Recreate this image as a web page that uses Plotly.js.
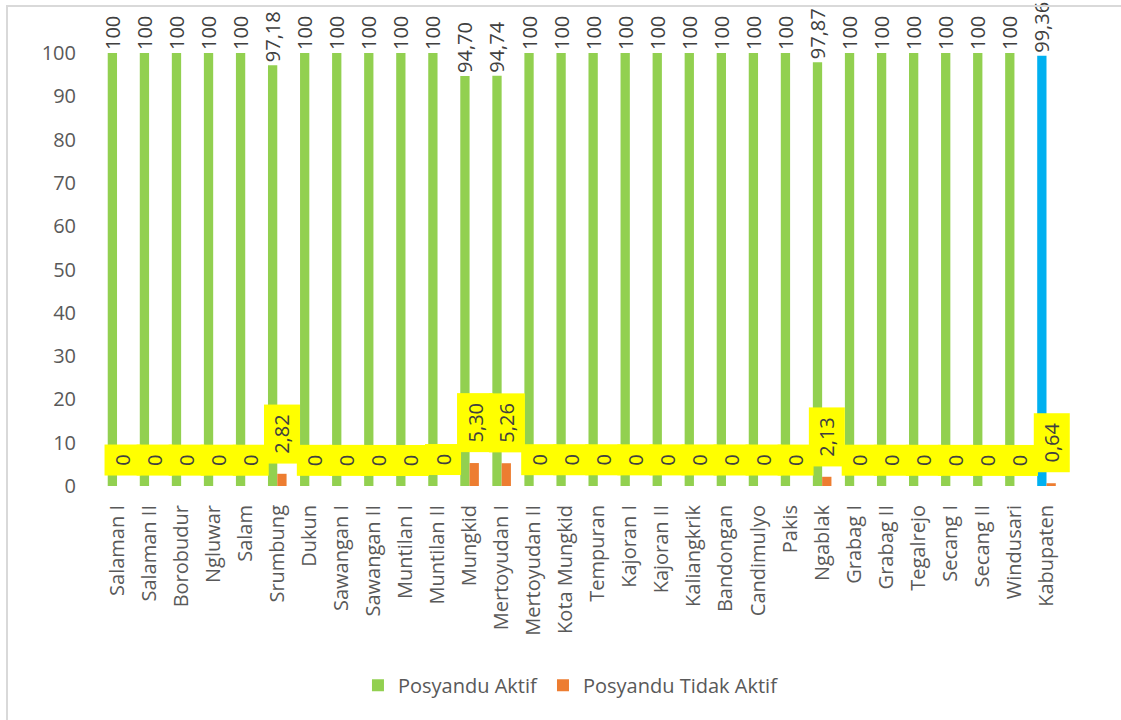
<!DOCTYPE html>
<html>
<head>
<meta charset="utf-8">
<script src="https://cdn.plot.ly/plotly-3.0.1.min.js"></script>
<style>
  html, body { margin: 0; padding: 0; background: #fff; }
  #wrap { position: relative; width: 1121px; height: 720px; overflow: hidden; }
  #chart { width: 1121px; height: 720px; }
  #frame { position: absolute; left: 6px; top: 5px; width: 2000px; height: 2000px;
           border-left: 2px solid #d9d9d9; border-top: 2px solid #d9d9d9; pointer-events: none; }
</style>
</head>
<body>
<div id="wrap">
  <div id="chart"></div>
  <div id="frame"></div>
</div>
<script>
// Posyandu status per Puskesmas (percent)
const categories = [
  "Salaman I", "Salaman II", "Borobudur", "Ngluwar", "Salam", "Srumbung", "Dukun",
  "Sawangan I", "Sawangan II", "Muntilan I", "Muntilan II", "Mungkid", "Mertoyudan I",
  "Mertoyudan II", "Kota Mungkid", "Tempuran", "Kajoran I", "Kajoran II", "Kaliangkrik",
  "Bandongan", "Candimulyo", "Pakis", "Ngablak", "Grabag I", "Grabag II", "Tegalrejo",
  "Secang I", "Secang II", "Windusari", "Kabupaten"
];
const aktif = [
  100, 100, 100, 100, 100, 97.18, 100, 100, 100, 100, 100, 94.70, 94.74,
  100, 100, 100, 100, 100, 100, 100, 100, 100, 97.87, 100, 100, 100,
  100, 100, 100, 99.36
];
const tidakAktif = [
  0, 0, 0, 0, 0, 2.82, 0, 0, 0, 0, 0, 5.30, 5.26,
  0, 0, 0, 0, 0, 0, 0, 0, 0, 2.13, 0, 0, 0,
  0, 0, 0, 0.64
];
const totalLabel = "Kabupaten";

const fmt = v => (Number.isInteger(v) ? String(v) : v.toFixed(2).replace('.', ','));

const GREEN = '#92D050', BLUE = '#00B0F0', ORANGE = '#ED7D31';
const TXT = '#404040', AXT = '#595959';
const FONT = 'Open Sans, sans-serif';

const aktifColors = categories.map(c => (c === totalLabel ? BLUE : GREEN));

const traces = [
  {
    type: 'bar', name: 'Posyandu Aktif', x: categories, y: aktif,
    marker: { color: aktifColors, line: { width: 0 } },
    text: aktif.map(fmt), textposition: 'outside', textangle: -90,
    constraintext: 'none', cliponaxis: false,
    textfont: { family: FONT, size: 20, color: TXT },
    hoverinfo: 'x+y'
  },
  {
    type: 'bar', name: 'Posyandu Tidak Aktif', x: categories, y: tidakAktif,
    marker: { color: ORANGE, line: { width: 0 } },
    cliponaxis: false, hoverinfo: 'x+y'
  }
];

// Yellow value boxes above the orange bars
const annotations = categories.map((c, i) => ({
  x: c, y: tidakAktif[i], xref: 'x', yref: 'y',
  text: '\u00a0' + fmt(tidakAktif[i]) + '\u00a0',
  textangle: -90, showarrow: false,
  xanchor: 'center', yanchor: 'bottom', xshift: 5, yshift: 10,
  bgcolor: '#FFFF00', borderpad: 4,
  font: { family: FONT, size: 20, color: TXT }
}));

const layout = {
  width: 1121, height: 720,
  margin: { l: 101, r: 51, t: 53, b: 234 },
  paper_bgcolor: '#ffffff', plot_bgcolor: '#ffffff',
  barmode: 'group', bargap: 0.42, bargroupgap: 0,
  font: { family: FONT, size: 20, color: AXT },
  xaxis: {
    type: 'category', showgrid: false, showline: false, zeroline: false,
    ticks: 'outside', ticklen: 10, tickcolor: 'rgba(0,0,0,0)',
    tickangle: -90, tickfont: { family: FONT, size: 20, color: AXT }
  },
  yaxis: {
    range: [0, 100], tickvals: [0, 10, 20, 30, 40, 50, 60, 70, 80, 90, 100],
    showgrid: false, showline: false, zeroline: false,
    ticks: 'outside', ticklen: 20, tickcolor: 'rgba(0,0,0,0)',
    tickfont: { family: FONT, size: 20, color: AXT }
  },
  legend: {
    orientation: 'h', x: 0.485, xanchor: 'center', y: -0.46, yanchor: 'middle',
    font: { family: FONT, size: 20, color: AXT }, traceorder: 'normal'
  },
  annotations: annotations,
  showlegend: true
};

Plotly.newPlot('chart', traces, layout, { displayModeBar: false, staticPlot: true });
</script>
</body>
</html>
